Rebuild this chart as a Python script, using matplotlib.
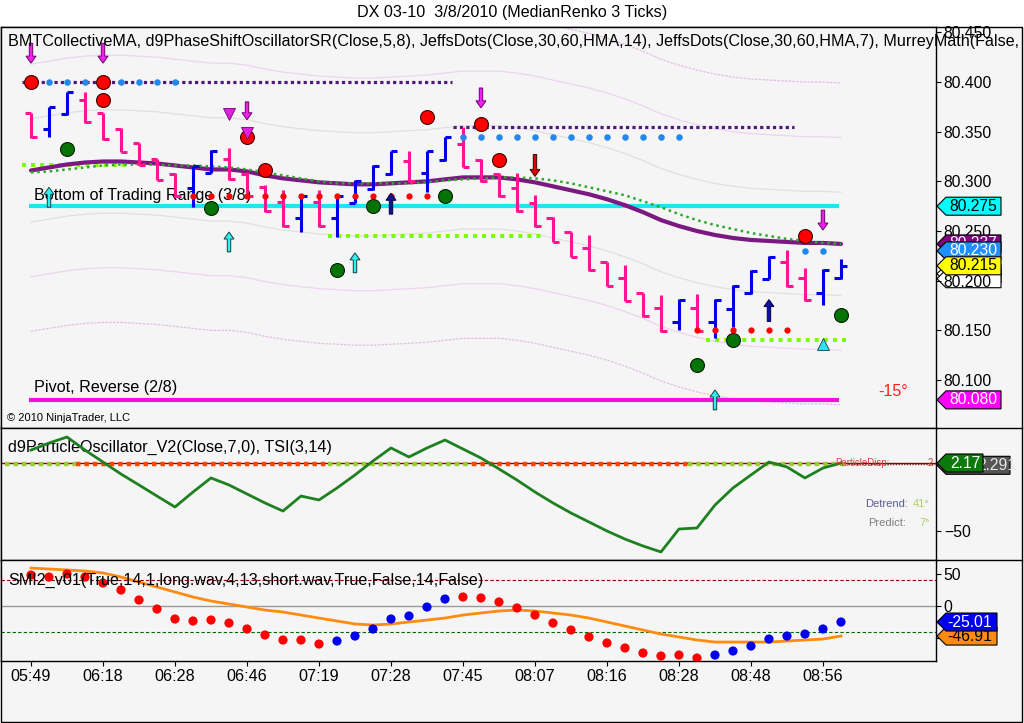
import numpy as np
import matplotlib.pyplot as plt
from matplotlib.patches import Polygon, Rectangle

plt.rcParams['font.family'] = ['Liberation Sans', 'DejaVu Sans']

W, H = 1024, 723
FS = 11.6

# ---------------- data ----------------
time_labels = ["05:49", "06:18", "06:28", "06:46", "07:19", "07:28",
               "07:45", "08:07", "08:16", "08:28", "08:48", "08:56"]

bar_open = [80.369, 80.353, 80.368, 80.382, 80.369, 80.353, 80.339, 80.323, 80.307, 80.293,
            80.308, 80.323, 80.307, 80.294, 80.279, 80.263, 80.279, 80.263, 80.278, 80.292,
            80.307, 80.321, 80.308, 80.322, 80.338, 80.322, 80.307, 80.293, 80.278, 80.263,
            80.249, 80.233, 80.219, 80.203, 80.188, 80.173, 80.158, 80.173, 80.158, 80.172,
            80.188, 80.202, 80.219, 80.203, 80.188, 80.203]
bar_close = [80.345, 80.375, 80.390, 80.360, 80.343, 80.330, 80.316, 80.301, 80.285, 80.315,
             80.331, 80.302, 80.285, 80.270, 80.255, 80.285, 80.255, 80.285, 80.300, 80.315,
             80.331, 80.300, 80.331, 80.345, 80.314, 80.300, 80.285, 80.270, 80.255, 80.239,
             80.224, 80.211, 80.195, 80.180, 80.164, 80.149, 80.181, 80.149, 80.181, 80.195,
             80.210, 80.224, 80.195, 80.181, 80.211, 80.215]
bar_high = [80.369, 80.375, 80.390, 80.390, 80.369, 80.354, 80.339, 80.323, 80.308, 80.315,
            80.332, 80.334, 80.309, 80.296, 80.291, 80.286, 80.291, 80.286, 80.301, 80.316,
            80.331, 80.331, 80.331, 80.345, 80.355, 80.323, 80.308, 80.308, 80.286, 80.264,
            80.249, 80.246, 80.219, 80.216, 80.188, 80.186, 80.182, 80.187, 80.182, 80.196,
            80.211, 80.225, 80.231, 80.213, 80.212, 80.222]
bar_low = [80.344, 80.345, 80.367, 80.359, 80.342, 80.330, 80.316, 80.301, 80.284, 80.274,
           80.308, 80.301, 80.284, 80.269, 80.254, 80.249, 80.254, 80.244, 80.278, 80.291,
           80.306, 80.299, 80.289, 80.321, 80.314, 80.299, 80.284, 80.269, 80.254, 80.239,
           80.224, 80.210, 80.195, 80.180, 80.163, 80.148, 80.150, 80.148, 80.142, 80.153,
           80.187, 80.202, 80.194, 80.180, 80.176, 80.202]

collective_ma = [80.311, 80.314, 80.317, 80.319, 80.320, 80.320, 80.319, 80.318, 80.316, 80.314,
                 80.312, 80.312, 80.310, 80.306, 80.303, 80.301, 80.299, 80.298, 80.297, 80.297,
                 80.298, 80.299, 80.300, 80.302, 80.304, 80.304, 80.304, 80.302, 80.299, 80.295,
                 80.291, 80.287, 80.282, 80.276, 80.269, 80.261, 80.255, 80.250, 80.246, 80.243,
                 80.241, 80.240, 80.239, 80.238, 80.238, 80.237]
jeffs_line = [80.309, 80.310, 80.312, 80.314, 80.316, 80.317, 80.317, 80.317, 80.316, 80.316,
              80.315, 80.314, 80.312, 80.309, 80.306, 80.303, 80.300, 80.298, 80.298, 80.298,
              80.298, 80.298, 80.299, 80.301, 80.302, 80.303, 80.304, 80.304, 80.303, 80.301,
              80.298, 80.294, 80.290, 80.286, 80.280, 80.274, 80.267, 80.261, 80.256, 80.252,
              80.248, 80.245, 80.242, 80.240, 80.238, 80.237]
band_offsets = [0.052, 0.107, 0.162]

# Murrey math levels
mm_bottom = 80.275
mm_pivot = 80.080

# support / resistance dotted levels: (price, from bar, to bar)
purple_levels = [(80.400, -0.5, 23.4), (80.355, 23.45, 42.4)]
lime_levels = [(80.316, -0.5, 5.5), (80.245, 16.5, 28.4), (80.140, 37.5, 45.4)]

blue_dot_rows = [(80.400, [1, 2, 3, 5, 6, 7, 8]),
                 (80.345, list(range(24, 37))),
                 (80.230, [43, 44])]
red_dot_rows = [(80.285, list(range(9, 23))),
                (80.150, list(range(37, 43)))]

big_red = [(0, 80.400), (4, 80.400), (4, 80.382), (12, 80.345), (13, 80.311),
           (22, 80.365), (25, 80.358), (26, 80.322), (43, 80.245)]
big_green = [(2, 80.333), (10, 80.273), (19, 80.275), (23, 80.285), (17, 80.211),
             (37, 80.115), (39, 80.140), (45, 80.165)]

# arrows: (bar, tail price, tip price)
arrows_magenta = [(0, 80.439, 80.419), (4, 80.439, 80.419), (12, 80.380, 80.362),
                  (25, 80.394, 80.374), (44, 80.271, 80.251)]
arrows_red = [(28, 80.327, 80.305)]
arrows_cyan = [(1, 80.274, 80.294), (11, 80.229, 80.249), (18, 80.208, 80.228),
               (38, 80.070, 80.090)]
arrows_navy = [(20, 80.267, 80.288), (41, 80.159, 80.181)]
tri_down = [(11, 80.368), (12, 80.349)]
tri_up = [(44, 80.136)]

# TSI / particle oscillator panel
tsi = [12.1, 17.5, 22.1, 12.1, 2.9, -6.3, -14.7, -23.2, -31.6, -20.1,
       -9.3, -14.7, -21.6, -28.5, -34.7, -23.2, -26.2, -17.0, -7.0, 3.7,
       13.7, 6.8, 13.7, 19.8, 12.9, 6.0, -2.4, -10.9, -20.1, -28.5,
       -36.2, -43.1, -50.0, -56.2, -61.5, -66.1, -48.5, -47.7, -30.1, -17.0,
       -7.0, 2.9, -0.9, -9.3, -1.7, 2.17]
particle_level = 1.2
particle_segments = [(-1.45, 2.5, 'g'), (2.5, 16.5, 'r'), (16.5, 24.5, 'g'),
                     (24.5, 36.5, 'r'), (36.5, 45.4, 'g')]

# SMI panel
smi = [48.4, 45.3, 50.0, 45.3, 35.9, 25.0, 9.4, -4.7, -20.3, -23.4,
       -21.9, -26.6, -35.9, -45.3, -53.1, -53.1, -59.4, -54.7, -46.9, -35.9,
       -20.3, -15.6, -1.6, 10.9, 14.1, 12.5, 6.3, -3.1, -14.1, -26.6,
       -37.5, -48.4, -57.8, -65.6, -73.4, -78.1, -76.6, -81.3, -76.6, -70.3,
       -62.5, -51.6, -46.9, -43.8, -35.9, -25.01]
smi_rising = [0] * 17 + [1] * 7 + [0] * 14 + [1] * 8
smi_signal = [59.4, 57.8, 56.3, 54.7, 51.6, 45.3, 37.5, 29.7, 21.9, 14.1,
              7.8, 3.1, -1.6, -6.3, -9.4, -14.1, -18.8, -23.4, -28.1, -29.7,
              -28.1, -25.0, -21.9, -18.8, -14.1, -10.9, -7.8, -6.3, -7.8, -10.9,
              -14.1, -18.8, -25.0, -31.3, -37.5, -43.8, -48.4, -53.1, -56.3, -56.3,
              -56.3, -56.3, -54.7, -53.1, -51.6, -46.91]

# ---------------- figure ----------------
fig = plt.figure(figsize=(W / 100, H / 100), dpi=100, facecolor='white')
fig.patches.append(Rectangle((1 / W, 1 - 722 / H), 1021 / W, 695 / H, transform=fig.transFigure,
                             facecolor='#f5f5f5', edgecolor='black', lw=1, zorder=-1))


def px_axes(x0, y0, x1, y1):
    a = fig.add_axes([x0 / W, 1 - y1 / H, (x1 - x0) / W, (y1 - y0) / H])
    a.set_facecolor('#f5f5f5')
    for s in a.spines.values():
        s.set_linewidth(1)
    return a


idx = np.arange(len(bar_close))
XL = (-1.667, 50.28)

ax = px_axes(1, 27, 936, 428)
ax2 = px_axes(1, 428, 936, 560)
ax3 = px_axes(1, 560, 936, 661)
for a in (ax, ax2, ax3):
    a.set_xlim(*XL)
    a.yaxis.tick_right()
    a.tick_params(axis='y', direction='out', length=3.6, width=0.8, labelsize=11.3, pad=2)
for a in (ax, ax2):
    a.tick_params(axis='x', bottom=False, labelbottom=False)

ax.set_ylim(80.0517, 80.4554)
ax2.set_ylim(-72.27, 29.03)
ax3.set_ylim(-85.9, 71.9)
ax.set_yticks(np.arange(80.10, 80.46, 0.05))
ax.set_yticklabels(["%.3f" % v for v in np.arange(80.10, 80.46, 0.05)])
ax2.set_yticks([-50])
ax3.set_yticks([50, 0, -50])
ax3.set_xticks(idx[::4])
ax3.set_xticklabels(time_labels)
ax3.tick_params(axis='x', direction='out', length=3.6, width=0.8, labelsize=FS, pad=2)

sx = (XL[1] - XL[0]) / 935
sy = (80.4554 - 80.0517) / 401

# ---- main panel ----
for k, off in enumerate(band_offsets):
    col = ['#e0e0e0', '#eed4ee', '#e0c0e0'][k]
    ls = '-' if k < 2 else (0, (2, 1))
    for sgn in (1, -1):
        ax.plot(idx, np.array(collective_ma) + sgn * off, color=col, lw=0.9, ls=ls, zorder=1)

ax.hlines(mm_bottom, -0.1, 44.9, color='#1ee6f0', lw=3, zorder=2)
ax.hlines(mm_pivot, -0.1, 44.9, color='#f010e0', lw=3, zorder=2)
ax.text(0.17, 80.286, "Bottom of Trading Range (3/8)", fontsize=FS, va='center', zorder=3)
ax.text(0.17, 80.092, "Pivot, Reverse (2/8)", fontsize=FS, va='center', zorder=3)

for p, a0, a1 in purple_levels:
    ax.plot([a0, a1], [p, p], color='#4b1a7a', lw=2.3, ls=(0, (1, 1)), zorder=3)
for p, a0, a1 in lime_levels:
    ax.plot([a0, a1], [p, p], color='#7cfc00', lw=2.9, ls=(0, (1, 1.25)), zorder=3)

ax.plot(idx, collective_ma, color='#7a1a80', lw=3, zorder=3, solid_capstyle='round')
ax.plot(idx, jeffs_line, color='#2aa82a', lw=1.8, ls=(0, (1, 1.5)), zorder=3)

up = np.array(bar_close) > np.array(bar_open)
cols = np.where(up, '#0000e6', '#ff1493')
ax.vlines(idx, bar_low, bar_high, colors=cols, lw=2.2, zorder=4)
ax.hlines(bar_open, idx - 0.36, idx, colors=cols, lw=2.2, zorder=4)
ax.hlines(bar_close, idx, idx + 0.36, colors=cols, lw=2.2, zorder=4)

for p, bars in blue_dot_rows:
    ax.plot(bars, [p] * len(bars), 'o', color='#2288ee', ms=4.7, mew=0, zorder=5)
for p, bars in red_dot_rows:
    ax.plot(bars, [p] * len(bars), 'o', color='#ff0000', ms=4.5, mew=0, zorder=5)

bx, by = zip(*big_red)
ax.plot(bx, by, 'o', color='#ff0000', ms=10, mec='#400000', mew=0.8, zorder=6)
gx, gy = zip(*big_green)
ax.plot(gx, gy, 'o', color='#067306', ms=10, mec='#002000', mew=0.8, zorder=6)


def arrow(a, x, y_tail, y_tip, face, edge, ysc):
    d = np.sign(y_tip - y_tail)
    hl = 7 * ysc * d
    pts = [(x, y_tip), (x - 5 * sx, y_tip - hl), (x - 1.7 * sx, y_tip - hl),
           (x - 1.7 * sx, y_tail), (x + 1.7 * sx, y_tail), (x + 1.7 * sx, y_tip - hl),
           (x + 5 * sx, y_tip - hl)]
    a.add_patch(Polygon(pts, closed=True, facecolor=face, edgecolor=edge, lw=0.7, zorder=7))


for b, t0, t1 in arrows_magenta:
    arrow(ax, b, t0, t1, '#f020f0', '#700070', sy)
for b, t0, t1 in arrows_red:
    arrow(ax, b, t0, t1, '#e00000', '#400000', sy)
for b, t0, t1 in arrows_cyan:
    arrow(ax, b, t0, t1, '#30f0f0', '#104040', sy)
for b, t0, t1 in arrows_navy:
    arrow(ax, b, t0, t1, '#1010a0', '#000040', sy)
tx, ty = zip(*tri_down)
ax.plot(tx, ty, 'v', color='#e020e0', ms=8, mec='#700070', mew=0.6, zorder=8)
tx, ty = zip(*tri_up)
ax.plot(tx, ty, '^', color='#30e0f0', ms=8, mec='#104040', mew=0.6, zorder=8)

ax.text(47.9, 80.088, "-15°", color='#ff2020', fontsize=FS, ha='center', va='center')
ax.text(0.0065, 0.025, "© 2010 NinjaTrader, LLC", transform=ax.transAxes, fontsize=8,
        va='center')
ax.text(0.0075, 0.9626, "BMTCollectiveMA, d9PhaseShiftOscillatorSR(Close,5,8), "
        "JeffsDots(Close,30,60,HMA,14), JeffsDots(Close,30,60,HMA,7), MurreyMath(False,",
        transform=ax.transAxes, fontsize=FS, va='center', clip_on=False, zorder=20)

# ---- particle oscillator / TSI ----
ax2.hlines(2.4, XL[0], XL[1], color='#8b0000', lw=1, zorder=2)
for a0, a1, c in particle_segments:
    ax2.plot([a0, a1], [particle_level] * 2, color='#ff4500' if c == 'r' else '#9acd32',
             lw=3.2, ls=(0, (1, 0.9)), zorder=3)
ax2.plot([45.4, 50.2], [particle_level] * 2, color='#802020', lw=1, ls=(0, (1, 1)), zorder=3)
ax2.plot(idx, tsi, color='#1e8020', lw=2, zorder=4)
ax2.text(0.0075, 0.85, "d9ParticleOscillator_V2(Close,7,0), TSI(3,14)",
         transform=ax2.transAxes, fontsize=FS, va='center')
ax2.text(44.7, 2.2, "ParticleDisp:", color='#d04040', fontsize=7, va='center', zorder=5)
ax2.text(49.8, 2.2, "2", color='#d04040', fontsize=7, va='center', zorder=5)
ax2.text(48.72, -29.3, "Detrend:", color='#5a5a9a', fontsize=8, ha='right', va='center')
ax2.text(49.94, -29.3, "41°", color='#b0d060', fontsize=8, ha='right', va='center')
ax2.text(48.61, -43.9, "Predict:", color='#808080', fontsize=8, ha='right', va='center')
ax2.text(49.94, -43.9, "7°", color='#b0d060', fontsize=8, ha='right', va='center')

# ---- SMI ----
ax3.axhline(40, color='#8b0000', lw=0.8, ls=(0, (3, 2)), zorder=1)
ax3.axhline(0, color='#9a9a9a', lw=1, zorder=1)
ax3.axhline(-40, color='#006400', lw=0.8, ls=(0, (3, 2)), zorder=1)
ax3.plot(idx, smi_signal, color='#ff8c10', lw=2, zorder=3)
smi_cols = ['#0000ee' if r else '#ff0000' for r in smi_rising]
ax3.scatter(idx, smi, c=smi_cols, s=44, lw=0, zorder=4)
ax3.text(0.0075, 0.80, "SMI2_v01(True,14,1,long.wav,4,13,short.wav,True,False,14,False)",
         transform=ax3.transAxes, fontsize=FS, va='center', zorder=5)

# ---- price tags on the right axis ----
def price_tag(a, value, text, face, txtcol, z, width=64, height=18, tx=12):
    _, yp = a.transData.transform((0, value))
    x0, tip = 937, 9
    pts = np.array([(x0, yp), (x0 + tip, yp + height / 2), (x0 + width, yp + height / 2),
                    (x0 + width, yp - height / 2), (x0 + tip, yp - height / 2)])
    fig.patches.append(Polygon(pts / [W, H], closed=True, transform=fig.transFigure,
                               facecolor=face, edgecolor='black', lw=0.8, zorder=z))
    if text:
        fig.text((x0 + tx) / W, yp / H, text, color=txtcol, fontsize=11.3, va='center',
                 ha='left', zorder=z + 0.5)


price_tag(ax, 80.207, "", 'white', 'black', -0.6)
price_tag(ax, 80.202, "", 'white', 'black', -0.5)
price_tag(ax, mm_bottom, "80.275", '#00ffff', 'black', 10)
price_tag(ax, collective_ma[-1], "80.237", '#800080', 'white', 12)
price_tag(ax, 80.230, "80.230", '#1e90ff', 'white', 14)
price_tag(ax, bar_close[-1], "80.215", '#ffff00', 'black', 16)
price_tag(ax, mm_pivot, "80.080", '#ff00ff', 'white', 10)
price_tag(ax2, 0.4, "2.291", '#555555', '#e8e8e8', 10, width=73, tx=40)
price_tag(ax2, tsi[-1], "2.17", '#0b7a0b', 'white', 12, width=46, tx=13)
price_tag(ax3, smi[-1], "-25.01", '#0000ee', 'white', 12, width=60, tx=10)
price_tag(ax3, smi_signal[-1], "-46.91", '#ff8c10', 'black', 10, width=60, tx=10)

# panel separators across the price-axis area
for yy in (428, 560):
    fig.lines.append(plt.Line2D([936 / W, 1022 / W], [1 - yy / H] * 2, transform=fig.transFigure,
                                color='black', lw=1, zorder=30))

fig.text(0.5, 1 - 13 / H, "DX 03-10  3/8/2010 (MedianRenko 3 Ticks)", ha='center',
         va='center', fontsize=FS)

fig.savefig("out.png", dpi=100, facecolor=fig.get_facecolor())
